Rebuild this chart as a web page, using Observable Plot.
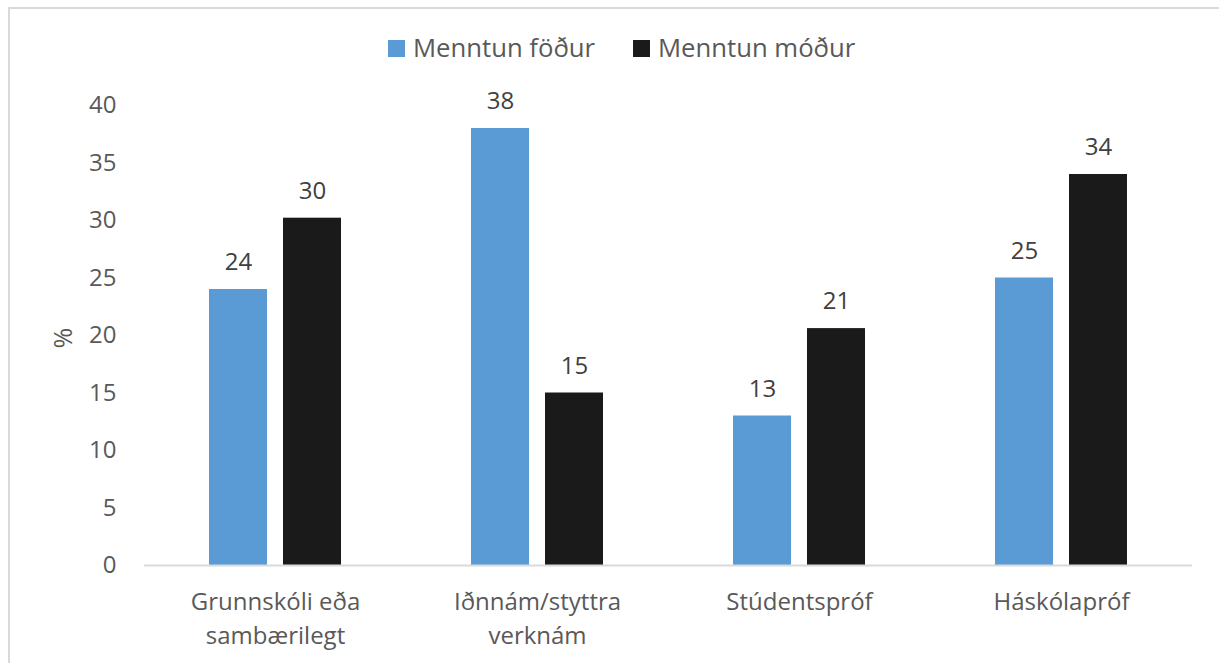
<!DOCTYPE html>
<html>
<head>
<meta charset="utf-8">
<script src="https://cdn.jsdelivr.net/npm/d3@7"></script>
<script src="https://cdn.jsdelivr.net/npm/@observablehq/plot@0.6"></script>
<style>
  html, body { margin: 0; padding: 0; background: #fff; overflow: hidden; width: 1219px; height: 663px; }
  #wrap { position: relative; width: 1219px; height: 663px; font-family: "Open Sans", sans-serif; }
  #border { position: absolute; left: 8px; top: 7px; width: 3000px; height: 3000px; border-top: 2px solid #d9d9d9; border-left: 2px solid #d9d9d9; pointer-events: none; }
  #legend { position: relative; height: 72px; }
  .item { position: absolute; top: 32px; display: flex; align-items: center; font-size: 25.7px; color: #595959; line-height: 32px; white-space: nowrap; }
  .sw { width: 17px; height: 17px; margin-right: 8px; display: inline-block; }
  #chart svg { display: block; }
</style>
</head>
<body>
<div id="wrap">
  <div id="legend"></div>
  <div id="chart"></div>
  <div id="border"></div>
</div>
<script>
const categories = ["Grunnskóli eða sambærilegt", "Iðnnám/styttra verknám", "Stúdentspróf", "Háskólapróf"];
const categoryLabels = ["Grunnskóli eða\nsambærilegt", "Iðnnám/styttra\nverknám", "Stúdentspróf", "Háskólapróf"];
const series = ["Menntun föður", "Menntun móður"];
const fatherValues = [24, 38, 13, 25];
const motherValues = [30.2, 15, 20.6, 34];
const yTicks = [0, 5, 10, 15, 20, 25, 30, 35, 40];
const colors = ["#5B9BD5", "#1A1A1A"];
const legendLeft = [388, 633];

const data = categories.flatMap((c, i) => [
  {category: c, series: series[0], value: fatherValues[i]},
  {category: c, series: series[1], value: motherValues[i]}
]);

const legend = document.getElementById("legend");
series.forEach((s, i) => {
  const it = document.createElement("div");
  it.className = "item";
  it.style.left = legendLeft[i] + "px";
  const sw = document.createElement("span");
  sw.className = "sw";
  sw.style.background = colors[i];
  it.appendChild(sw);
  it.appendChild(document.createTextNode(s));
  legend.appendChild(it);
});

const fmt = d3.format(".0f");

const chart = Plot.plot({
  width: 1219,
  height: 591,
  marginTop: 33,
  marginBottom: 98,
  marginLeft: 143,
  marginRight: 26,
  style: {fontFamily: "Open Sans, sans-serif", fontSize: "24px", background: "white", overflow: "visible"},
  fx: {domain: categories, padding: 0, label: null},
  x: {domain: series, paddingInner: 0.213, paddingOuter: 0.856, axis: null},
  y: {domain: [0, 40], label: null},
  color: {domain: series, range: colors},
  marks: [
    Plot.axisY({ticks: yTicks, tickSize: 0, tickPadding: 28, label: null, fontSize: 24, fill: "#595959", tickFormat: d => String(d)}),
    Plot.axisFx({anchor: "bottom", tickSize: 0, tickPadding: 21, label: null, fontSize: 24, fill: "#595959", lineHeight: 1.39,
      tickFormat: c => categoryLabels[categories.indexOf(c)]}),
    Plot.barY(data, {fx: "category", x: "series", y: "value", fill: "series"}),
    Plot.ruleY([0], {stroke: "#d9d9d9", strokeWidth: 2}),
    Plot.text(data, {fx: "category", x: "series", y: "value", text: d => fmt(d.value), dy: -27, fill: "#404040", fontSize: 24}),
    Plot.text(["%"], {fx: () => categories[0], frameAnchor: "left", dx: -81, dy: 13, rotate: -90, text: d => d, fontSize: 25, fill: "#595959"})
  ]
});
document.getElementById("chart").appendChild(chart);
</script>
</body>
</html>
